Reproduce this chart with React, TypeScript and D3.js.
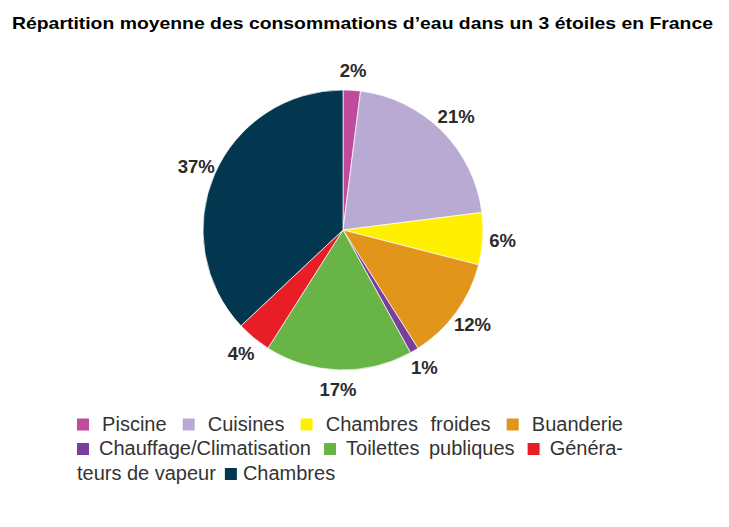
import React, { useEffect, useRef } from 'react';
import * as d3 from 'd3';

const title = 'Répartition moyenne des consommations d’eau dans un 3 étoiles en France';

const categories = [
  'Piscine',
  'Cuisines',
  'Chambres froides',
  'Buanderie',
  'Chauffage/Climatisation',
  'Toilettes publiques',
  'Générateurs de vapeur',
  'Chambres',
];
const values = [2, 21, 6, 12, 1, 17, 4, 37];
const colors = ['#C24A9E', '#B9AAD3', '#FFEF00', '#E1961B', '#7A3E9B', '#68B446', '#E81E27', '#03374F'];

// legend lines as printed: '#n' is the swatch of category n
const legendLines = [
  ['#0', 'Piscine', '#1', 'Cuisines', '#2', 'Chambres', 'froides', '#3', 'Buanderie'],
  ['#4', 'Chauffage/Climatisation', '#5', 'Toilettes', 'publiques', '#6', 'Généra-'],
  ['teurs', 'de', 'vapeur', '#7', 'Chambres'],
];

const App = () => {
  const svgRef = useRef<SVGSVGElement>(null);

  useEffect(() => {
    const svg = d3.select(svgRef.current);
    svg.selectAll('*').remove();

    const cx = 343;
    const cy = 230;
    const radius = 140;

    svg
      .append('text')
      .attr('x', 12)
      .attr('y', 29)
      .attr('font-family', 'Liberation Sans, Arial, sans-serif')
      .attr('font-weight', 'bold')
      .attr('font-size', 17)
      .attr('textLength', 701)
      .attr('lengthAdjust', 'spacingAndGlyphs')
      .attr('fill', '#000')
      .text(title);

    const pie = d3.pie<number>().sort(null).value((d) => d);
    const arcs = pie(values);
    const arc = d3.arc<d3.PieArcDatum<number>>().innerRadius(0).outerRadius(radius);
    const labelArc = d3.arc<d3.PieArcDatum<number>>().innerRadius(160).outerRadius(160);

    const g = svg.append('g').attr('transform', `translate(${cx},${cy})`);

    g.selectAll('path')
      .data(arcs)
      .enter()
      .append('path')
      .attr('d', arc)
      .attr('fill', (d, i) => colors[i])
      .attr('stroke', '#fff')
      .attr('stroke-width', 0.7);

    g.selectAll('text.lbl')
      .data(arcs)
      .enter()
      .append('text')
      .attr('class', 'lbl')
      .attr('x', (d) => labelArc.centroid(d)[0])
      .attr('y', (d) => labelArc.centroid(d)[1])
      .attr('text-anchor', 'middle')
      .attr('dominant-baseline', 'central')
      .attr('font-family', 'Liberation Sans, Arial, sans-serif')
      .attr('font-weight', 'bold')
      .attr('font-size', 18.5)
      .attr('fill', '#2b2b2b')
      .text((d) => `${d.data}%`);

    // legend, justified like a paragraph
    const left = 77;
    const right = 623;
    const sq = 12;
    const baselines = [430.5, 455, 480];
    const legend = svg
      .append('g')
      .attr('font-family', 'Liberation Sans, Arial, sans-serif')
      .attr('font-size', 20)
      .attr('fill', '#333');

    legendLines.forEach((tokens, row) => {
      const y = baselines[row];
      const items = tokens.map((t) => {
        if (t.startsWith('#')) {
          return { swatch: +t.slice(1), text: '', w: sq, node: null as any };
        }
        const node = legend.append('text').attr('y', y).text(t);
        const w = (node.node() as SVGTextElement).getComputedTextLength();
        return { swatch: -1, text: t, w, node };
      });
      const gaps = items.slice(1).map((it, k) => {
        const prev = items[k];
        if (prev.swatch >= 0) return 6;
        if (it.swatch >= 0) return 9;
        return 5.5;
      });
      const natural = items.reduce((s, it) => s + it.w, 0) + d3.sum(gaps);
      const justify = row < legendLines.length - 1;
      const extra = justify ? (right - left - natural) / gaps.length : 0;
      let x = left;
      items.forEach((it, k) => {
        if (it.swatch >= 0) {
          legend
            .append('rect')
            .attr('x', x)
            .attr('y', y - sq)
            .attr('width', sq)
            .attr('height', sq)
            .attr('fill', colors[it.swatch]);
        } else {
          it.node.attr('x', x);
        }
        x += it.w + (k < gaps.length ? gaps[k] + extra : 0);
      });
    });

    return () => {
      svg.selectAll('*').remove();
    };
  }, []);

  return (
    <svg
      ref={svgRef}
      width={729}
      height={527}
      style={{ position: 'absolute', left: 0, top: 0, background: '#fff' }}
    ></svg>
  );
};

export default App;
